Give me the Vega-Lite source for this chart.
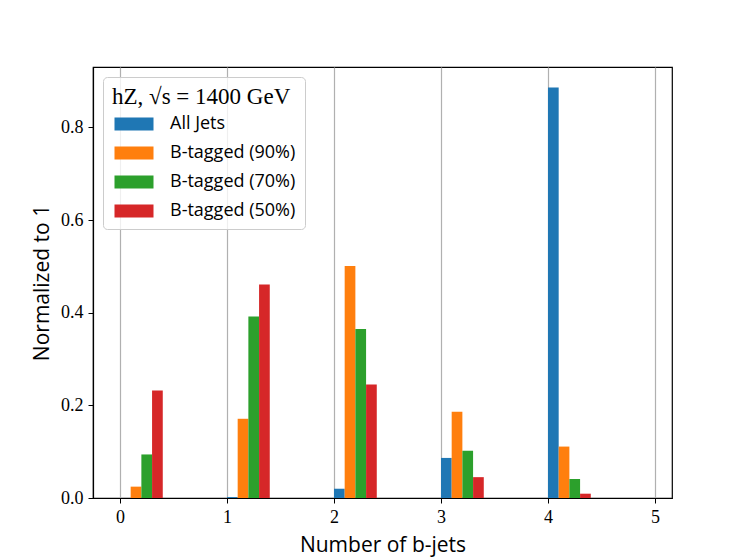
{
  "$schema": "https://vega.github.io/schema/vega-lite/v6.json",
  "width": 579,
  "height": 431,
  "autosize": {"type": "none"},
  "padding": {"left": 93, "top": 67, "right": 75, "bottom": 62},
  "background": "white",
  "config": {
    "view": {"stroke": "black", "strokeWidth": 1.2},
    "axis": {
      "domainColor": "black",
      "domainWidth": 1.2,
      "tickColor": "black",
      "tickWidth": 1,
      "tickSize": 5,
      "labelFont": "Liberation Serif",
      "labelFontSize": 18,
      "labelColor": "black",
      "labelPadding": 5,
      "titleFont": "Open Sans",
      "titleFontSize": 21,
      "titleFontWeight": "normal",
      "titleColor": "black"
    }
  },
  "data": {
    "values": [
      {"jets": 0, "series": "B-tagged (90%)", "value": 0.0245},
      {"jets": 0, "series": "B-tagged (70%)", "value": 0.094},
      {"jets": 0, "series": "B-tagged (50%)", "value": 0.232},
      {"jets": 1, "series": "All Jets", "value": 0.002},
      {"jets": 1, "series": "B-tagged (90%)", "value": 0.171},
      {"jets": 1, "series": "B-tagged (70%)", "value": 0.392},
      {"jets": 1, "series": "B-tagged (50%)", "value": 0.461},
      {"jets": 2, "series": "All Jets", "value": 0.02},
      {"jets": 2, "series": "B-tagged (90%)", "value": 0.501},
      {"jets": 2, "series": "B-tagged (70%)", "value": 0.365},
      {"jets": 2, "series": "B-tagged (50%)", "value": 0.245},
      {"jets": 3, "series": "All Jets", "value": 0.0865},
      {"jets": 3, "series": "B-tagged (90%)", "value": 0.186},
      {"jets": 3, "series": "B-tagged (70%)", "value": 0.102},
      {"jets": 3, "series": "B-tagged (50%)", "value": 0.045},
      {"jets": 4, "series": "All Jets", "value": 0.886},
      {"jets": 4, "series": "B-tagged (90%)", "value": 0.111},
      {"jets": 4, "series": "B-tagged (70%)", "value": 0.041},
      {"jets": 4, "series": "B-tagged (50%)", "value": 0.0093}
    ]
  },
  "transform": [
    {"calculate": "datum.jets + 0.1 * indexof(['All Jets', 'B-tagged (90%)', 'B-tagged (70%)', 'B-tagged (50%)'], datum.series)", "as": "x0"},
    {"calculate": "datum.x0 + 0.1", "as": "x1"}
  ],
  "mark": {"type": "bar", "opacity": 1, "orient": "vertical"},
  "encoding": {
    "x": {
      "field": "x0",
      "type": "quantitative",
      "scale": {"domain": [-0.252, 5.159], "nice": false, "zero": false, "padding": 0},
      "axis": {
        "values": [0, 1, 2, 3, 4, 5],
        "format": "d",
        "grid": true,
        "gridColor": "#b0b0b0",
        "gridWidth": 1.2,
        "title": "Number of b-jets",
        "titlePadding": 8
      }
    },
    "x2": {"field": "x1"},
    "y": {
      "field": "value",
      "type": "quantitative",
      "scale": {"domain": [0, 0.9303], "nice": false, "padding": 0},
      "axis": {
        "values": [0, 0.2, 0.4, 0.6, 0.8],
        "format": ".1f",
        "grid": false,
        "title": "Normalized to 1",
        "titlePadding": 8
      }
    },
    "y2": {"datum": 0},
    "color": {
      "field": "series",
      "type": "nominal",
      "scale": {
        "domain": ["All Jets", "B-tagged (90%)", "B-tagged (70%)", "B-tagged (50%)"],
        "range": ["#1f77b4", "#ff7f0e", "#2ca02c", "#d62728"]
      },
      "legend": {
        "orient": "none",
        "legendX": 10,
        "legendY": 10,
        "title": "hZ, √s = 1400 GeV",
        "titleFont": "Liberation Serif",
        "titleFontSize": 23,
        "titleFontWeight": "normal",
        "titleColor": "black",
        "titlePadding": 6,
        "labelFont": "Open Sans",
        "labelFontSize": 18,
        "labelColor": "black",
        "labelOffset": 40,
        "symbolType": "M-1,-1L5,-1L5,1L-1,1Z",
        "symbolSize": 169,
        "symbolStrokeWidth": 0,
        "symbolOpacity": 1,
        "rowPadding": 11,
        "padding": 9,
        "strokeColor": "#cccccc",
        "fillColor": "rgba(255,255,255,0.8)",
        "cornerRadius": 4
      }
    }
  }
}
